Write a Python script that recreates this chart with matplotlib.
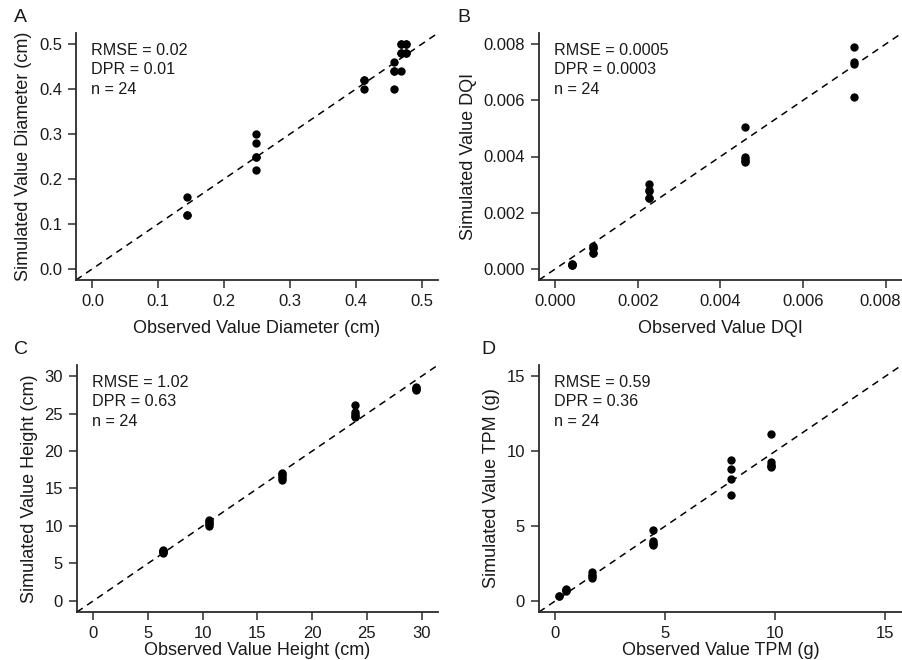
import matplotlib
matplotlib.use("Agg")
import matplotlib.pyplot as plt
from matplotlib.transforms import ScaledTranslation

plt.rcParams["font.family"] = ["Liberation Sans", "DejaVu Sans"]

# Panel A: stem diameter (cm)
diam_obs = [0.143, 0.143, 0.248, 0.248, 0.248, 0.248, 0.248,
            0.4125, 0.4125, 0.4125, 0.4575, 0.4575, 0.4575, 0.4575,
            0.469, 0.469, 0.469, 0.469, 0.477, 0.477, 0.477, 0.477, 0.143, 0.469]
diam_sim = [0.16, 0.12, 0.30, 0.28, 0.25, 0.22, 0.25,
            0.42, 0.40, 0.42, 0.46, 0.44, 0.40, 0.44,
            0.44, 0.50, 0.48, 0.48, 0.50, 0.48, 0.50, 0.48, 0.12, 0.50]

# Panel B: Dickson quality index
dqi_obs = [0.00039, 0.00039, 0.00039, 0.00039, 0.00091, 0.00091, 0.00091, 0.00091,
           0.00227, 0.00227, 0.00227, 0.00227, 0.0046, 0.0046, 0.0046, 0.0046,
           0.00724, 0.00724, 0.00724, 0.00724, 0.00039, 0.00091, 0.00227, 0.0046]
dqi_sim = [0.00018, 0.00012, 0.00015, 0.00013, 0.00082, 0.00073, 0.00055, 0.00075,
           0.00303, 0.00277, 0.00251, 0.00280, 0.00505, 0.00398, 0.0038, 0.0039,
           0.0079, 0.00737, 0.00731, 0.00613, 0.00016, 0.00056, 0.00253, 0.00385]

# Panel C: height (cm)
height_obs = [6.39, 6.39, 6.39, 6.39, 10.6, 10.6, 10.6, 10.6,
              17.2, 17.2, 17.2, 17.2, 23.9, 23.9, 23.9, 23.9,
              29.45, 29.45, 29.45, 29.45, 6.39, 10.6, 17.2, 23.9]
height_sim = [6.67, 6.4, 6.55, 6.75, 10.76, 10.4, 9.96, 10.2,
              17.07, 16.7, 16.2, 16.9, 26.2, 25.2, 24.9, 24.5,
              28.4, 28.2, 28.3, 28.5, 6.6, 10.6, 16.4, 24.7]

# Panel D: total plant mass (g)
tpm_obs = [0.15, 0.48, 0.48, 0.48, 1.68, 1.68, 1.68, 1.68,
           4.42, 4.42, 4.42, 4.42, 7.98, 7.98, 7.98, 7.98,
           9.79, 9.79, 9.79, 9.79, 0.15, 0.48, 4.42, 9.79]
tpm_sim = [0.33, 0.76, 0.67, 0.72, 1.91, 1.64, 1.55, 1.75,
           4.71, 3.96, 3.71, 3.85, 9.4, 8.78, 8.16, 7.04,
           11.13, 9.27, 9.07, 8.93, 0.30, 0.70, 3.80, 9.0]

panels = [
    dict(letter="A", x=diam_obs, y=diam_sim,
         xlabel="Observed Value Diameter (cm)", ylabel="Simulated Value Diameter (cm)",
         ticks=[0.0, 0.1, 0.2, 0.3, 0.4, 0.5], fmt="{:.1f}", lim=(-0.025, 0.525),
         stats=["RMSE = 0.02", "DPR = 0.01", "n = 24"], xpad=8),
    dict(letter="B", x=dqi_obs, y=dqi_sim,
         xlabel="Observed Value DQI", ylabel="Simulated Value DQI",
         ticks=[0.0, 0.002, 0.004, 0.006, 0.008], fmt="{:.3f}", lim=(-0.0004, 0.0084),
         stats=["RMSE = 0.0005", "DPR = 0.0003", "n = 24"], xpad=8),
    dict(letter="C", x=height_obs, y=height_sim,
         xlabel="Observed Value Height (cm)", ylabel="Simulated Value Height (cm)",
         ticks=[0, 5, 10, 15, 20, 25, 30], fmt="{:d}", lim=(-1.5, 31.5),
         stats=["RMSE = 1.02", "DPR = 0.63", "n = 24"], xpad=1),
    dict(letter="D", x=tpm_obs, y=tpm_sim,
         xlabel="Observed Value TPM (g)", ylabel="Simulated Value TPM (g)",
         ticks=[0, 5, 10, 15], fmt="{:d}", lim=(-0.75, 15.75),
         stats=["RMSE = 0.59", "DPR = 0.36", "n = 24"], xpad=1),
]

W, H = 903, 660
fig = plt.figure(figsize=(W / 100, H / 100), dpi=100)
fig.patch.set_facecolor("white")

# axes boxes in pixels: (left, top, right, bottom)
boxes = [(76, 33, 438, 280), (539, 33, 902, 280),
         (77, 365, 438, 612), (539, 365, 902, 612)]
letter_pos = [(14, 18), (457, 18), (14, 349), (481, 349)]

axis_color = "#2b2b2b"
text_color = "#1a1a1a"
for p, (l, t, r, b), (lx, ly) in zip(panels, boxes, letter_pos):
    ax = fig.add_axes([l / W, 1 - b / H, (r - l) / W, (b - t) / H])
    ax.set_xlim(*p["lim"])
    ax.set_ylim(*p["lim"])
    ax.axline((0, 0), slope=1, color="black", lw=1.1, linestyle=(0, (4.5, 3.5)))
    ax.plot(p["x"], p["y"], "o", color="black", markersize=6, markeredgewidth=0)
    for s in ["top", "right"]:
        ax.spines[s].set_visible(False)
    for s in ["left", "bottom"]:
        ax.spines[s].set_color(axis_color)
        ax.spines[s].set_linewidth(1.3)
    ax.set_xticks(p["ticks"])
    ax.set_yticks(p["ticks"])
    labels = [p["fmt"].format(v) for v in p["ticks"]]
    ax.set_xticklabels(labels)
    ax.set_yticklabels(labels)
    ax.tick_params(direction="out", length=6, width=1.1, color=axis_color,
                   labelsize=12, pad=4, labelcolor=text_color)
    if p["letter"] == "B":
        # keep the last x tick label inside the figure edge
        last = ax.get_xticklabels()[-1]
        last.set_transform(last.get_transform() +
                           ScaledTranslation(-5 / 100, 0, fig.dpi_scale_trans))
    ax.set_xlabel(p["xlabel"], fontsize=13, labelpad=p["xpad"], color=text_color)
    ax.set_ylabel(p["ylabel"], fontsize=13, labelpad=5, color=text_color)
    ax.set_facecolor("white")
    for i, line in enumerate(p["stats"]):
        ax.text(15 / (r - l), 1 - (10 + i * 19.3) / (b - t), line,
                transform=ax.transAxes, ha="left", va="top",
                fontsize=11.6, color=text_color)
    fig.text(lx / W, 1 - ly / H, p["letter"], fontsize=14, ha="left",
             va="center", color=text_color)

fig.savefig("out.png", dpi=100, facecolor="white")
